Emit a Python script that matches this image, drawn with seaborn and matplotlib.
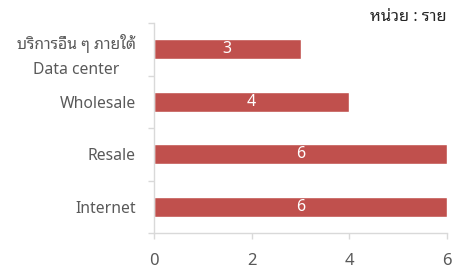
import matplotlib
matplotlib.use("Agg")
import matplotlib.pyplot as plt
import seaborn as sns
import pandas as pd

# data
categories = ["บริการอื่น ๆ ภายใต้\nData center", "Wholesale", "Resale", "Internet"]
counts = [3, 4, 6, 6]
x_ticks = [0, 2, 4, 6]
unit_label = "หน่วย : ราย"

bar_color = "#C0504D"
text_color = "#595959"
axis_color = "#D9D9D9"

sns.set_style("white")
plt.rcParams["font.family"] = ["Noto Sans", "Noto Sans Thai Looped", "DejaVu Sans"]

df = pd.DataFrame({"category": categories, "count": counts})

fig = plt.figure(figsize=(4.55, 2.7), dpi=100)
ax = fig.add_axes([154/455, 1 - 233/270, (447 - 154)/455, (233 - 23)/270])

sns.barplot(data=df, y="category", x="count", orient="h", color=bar_color,
            width=0.38, saturation=1, ax=ax)

ax.set_xlim(0, 6)
ax.set_xticks(x_ticks)
ax.set_ylim(3.5, -0.5)
ax.set_xlabel("")
ax.set_ylabel("")

# category boundaries get the tick marks, labels sit between them
ax.set_yticks([i - 0.5 for i in range(len(categories) + 1)], minor=True)
ax.tick_params(axis="y", which="major", length=0, pad=13, labelsize=11.3, labelcolor=text_color)
ax.tick_params(axis="y", which="minor", length=4, width=1, color=axis_color, left=True)
ax.tick_params(axis="x", which="major", length=4, width=1, color=axis_color, bottom=True,
               pad=10.5, labelsize=12, labelcolor=text_color)
for lab in ax.get_yticklabels():
    lab.set_multialignment("center")
    lab.set_linespacing(1.8)

for side in ["top", "right"]:
    ax.spines[side].set_visible(False)
for side in ["left", "bottom"]:
    ax.spines[side].set_color(axis_color)
    ax.spines[side].set_linewidth(1)

for cont in ax.containers:
    ax.bar_label(cont, label_type="center", color="white", fontsize=11.5)

fig.text(447/455, 1 - 17/270, unit_label, ha="right", va="center",
         fontsize=11.8, fontweight="bold", color="#262626")

fig.savefig("out.png", dpi=100)
